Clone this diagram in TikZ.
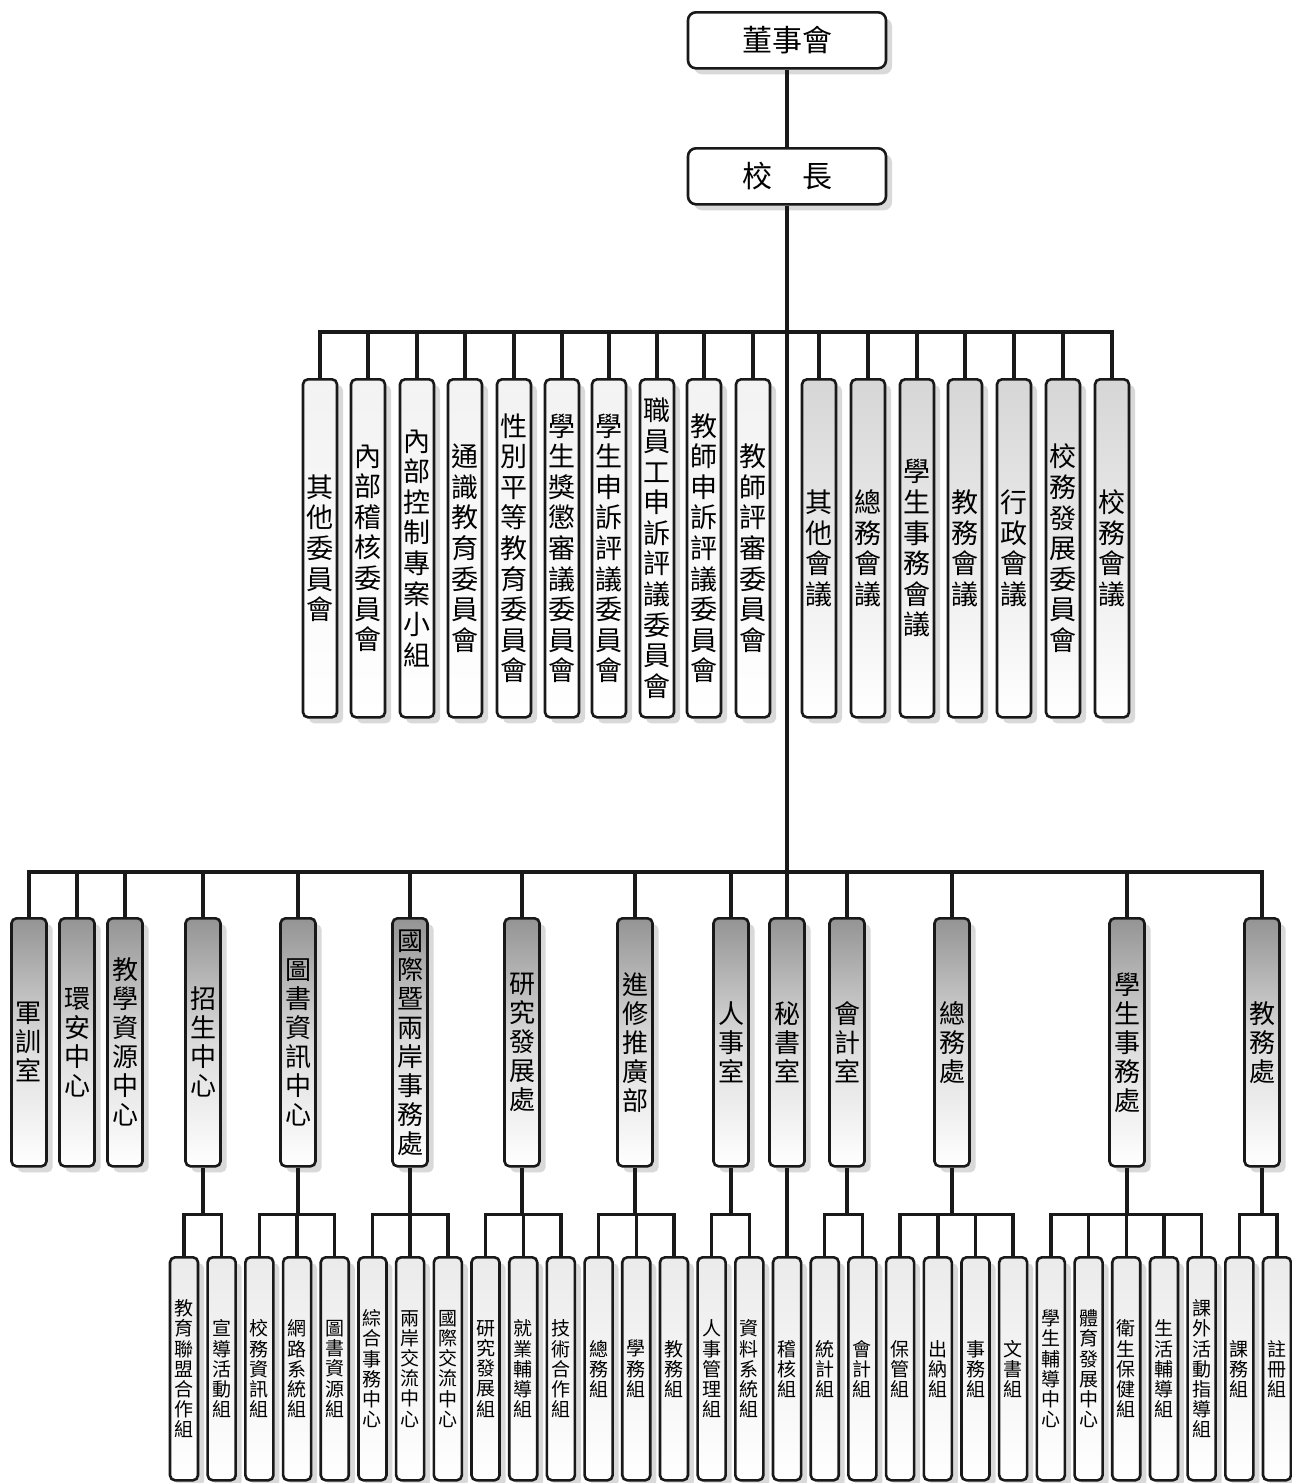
\documentclass[tikz,border=0pt]{standalone}
\usepackage{fontspec}
\setmainfont{Noto Sans CJK TC}
\usetikzlibrary{shadows}
% stack the characters of a label one under another
\makeatletter
\newcommand\vstack[1]{\edef\vs@txt{#1}\gdef\vs@out{}\global\let\vs@sep\relax
  \expandafter\@tfor\expandafter\vs@c\expandafter:\expandafter=\vs@txt\do{%
    \ifx\vs@sep\relax\else\g@addto@macro\vs@out{\\}\fi
    \expandafter\g@addto@macro\expandafter\vs@out\expandafter{\vs@c}%
    \global\let\vs@sep\empty}%
  \vs@out}
\makeatother
\tikzset{
  orgbox/.style={draw=black!90, line width=2.6pt, rounded corners=5pt, inner sep=0pt, anchor=north, align=center,
    drop shadow={shadow xshift=6pt, shadow yshift=-6pt, fill=black!25, opacity=.6}},
  headbox/.style={orgbox, rounded corners=8pt, minimum width=198pt, minimum height=56pt, fill=white,
    font=\fontsize{30}{34}\selectfont},
  committee/.style={orgbox, minimum width=34pt, minimum height=338pt, top color=black!5, bottom color=white,
    font=\fontsize{27}{30.6}\selectfont},
  meeting/.style={committee, top color=black!16, bottom color=white, middle color=black!8},
  unitbox/.style={orgbox, minimum width=35pt, minimum height=248pt, top color=black!42, bottom color=white,
    middle color=black!14, font=\fontsize{26}{29}\selectfont},
  subbox/.style={orgbox, minimum width=28pt, minimum height=223pt, top color=black!8, bottom color=white,
    font=\fontsize{19}{20.2}\selectfont},
  link/.style={draw=black!90, line width=3.4pt}
}
\begin{document}
\begin{tikzpicture}[x=1pt,y=-1pt]
  \useasboundingbox (0,0) rectangle (1292,1483);
  \node[headbox] (board) at (787,11) {董事會};
  \node[headbox] (head) at (787,147) {校　長};
  % committees and meetings
  \foreach \x/\t [count=\i] in {320/其他委員會, 368/內部稽核委員會, 417/內部控制專案小組, 465/通識教育委員會,
      514/性別平等教育委員會, 562/學生獎懲審議委員會, 609/學生申訴評議委員會, 657/職員工申訴評議委員會,
      704/教師申訴評議委員會, 753/教師評審委員會}
    \node[committee] (c\i) at (\x,378) {\vstack{\t}};
  \foreach \x/\t [count=\i from 11] in {819/其他會議, 868/總務會議, 917/學生事務會議, 965/教務會議,
      1014/行政會議, 1063/校務發展委員會, 1112/校務會議}
    \node[meeting] (c\i) at (\x,378) {\vstack{\t}};
  % units
  \foreach \x/\t [count=\i] in {29/軍訓室, 77/環安中心, 125/教學資源中心, 203/招生中心, 298/圖書資訊中心,
      410/國際暨兩岸事務處, 522/研究發展處, 635/進修推廣部, 731/人事室, 787/秘書室, 847/會計室,
      952/總務處, 1127/學生事務處, 1262/教務處}
    \node[unitbox] (u\i) at (\x,917) {\vstack{\t}};
  % sections
  \foreach \t [count=\i] in {教育聯盟合作組, 宣導活動組, 校務資訊組, 網路系統組, 圖書資源組, 綜合事務中心,
      兩岸交流中心, 國際交流中心, 研究發展組, 就業輔導組, 技術合作組, 總務組, 學務組, 教務組, 人事管理組,
      資料系統組, 稽核組, 統計組, 會計組, 保管組, 出納組, 事務組, 文書組, 學生輔導中心, 體育發展中心,
      衛生保健組, 生活輔導組, 課外活動指導組, 課務組, 註冊組}
    \node[subbox] (s\i) at ({184+37.69*(\i-1)},1256) {\vstack{\t}};
  % lines
  \coordinate (cjoin) at (787,332);
  \coordinate (ujoin) at (787,872);
  \draw[link] (board) -- (head);
  \draw[link] (head) -- (u10);
  \foreach \i in {1,...,17}
    \draw[link] (c\i.north) |- (cjoin);
  \foreach \i in {1,...,14}
    \draw[link] (u\i.north) |- (ujoin);
  \foreach \u/\s in {4/1, 4/2, 5/3, 5/4, 5/5, 6/6, 6/7, 6/8, 7/9, 7/10, 7/11, 8/12, 8/13, 8/14, 9/15, 9/16,
      10/17, 11/18, 11/19, 12/20, 12/21, 12/22, 12/23, 13/24, 13/25, 13/26, 13/27, 13/28, 14/29, 14/30}
    \draw[link] (u\u.south) -- ++(0,47) -| (s\s.north);
\end{tikzpicture}
\end{document}
